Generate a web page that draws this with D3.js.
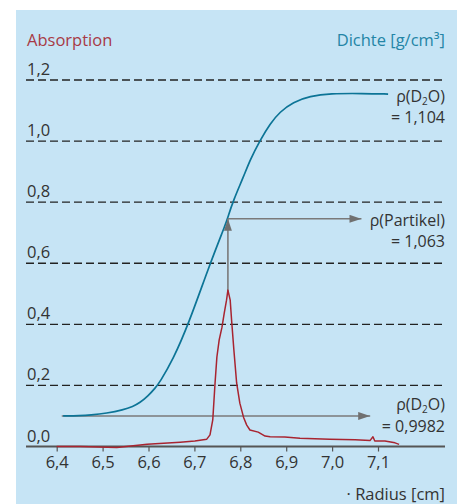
<!DOCTYPE html>
<html>
<head>
<meta charset="utf-8">
<script src="https://cdn.jsdelivr.net/npm/d3@7"></script>
<style>
  html, body { margin: 0; padding: 0; background: #fff; }
  svg { display: block; font-family: "Open Sans", "Noto Sans", sans-serif; }
</style>
</head>
<body>
<div id="chart"></div>
<script>
// x axis (radius in cm) and left axis (absorption)
const xTicks = [6.4, 6.5, 6.6, 6.7, 6.8, 6.9, 7.0, 7.1]
const yTicks = [0.0, 0.2, 0.4, 0.6, 0.8, 1.0, 1.2]

// absorption trace (radius, absorption)
const absRadius = [6.400, 6.451, 6.531, 6.597, 6.669, 6.701, 6.727, 6.734, 6.740, 6.745,
    6.749, 6.754, 6.760, 6.765, 6.770, 6.773, 6.778, 6.781, 6.786, 6.792,
    6.799, 6.807, 6.814, 6.821, 6.839, 6.854, 6.865, 6.897, 6.930, 6.995,
    7.050, 7.083, 7.089, 7.093, 7.115, 7.137, 7.146]
const absValue = [0.000, 0.000, -0.003, 0.007, 0.014, 0.018, 0.024, 0.038, 0.087, 0.208,
    0.293, 0.349, 0.390, 0.437, 0.479, 0.512, 0.479, 0.414, 0.316, 0.208,
    0.142, 0.096, 0.070, 0.054, 0.047, 0.034, 0.032, 0.031, 0.027, 0.024,
    0.022, 0.020, 0.032, 0.018, 0.018, 0.012, 0.007]

// density gradient (radius, g/cm3)
const densRadius = [6.414, 6.451, 6.473, 6.509, 6.545, 6.566, 6.581, 6.599, 6.614, 6.625, 6.653, 6.687,
    6.734, 6.770, 6.773, 6.785, 6.807, 6.821, 6.843, 6.865, 6.886, 6.915,
    6.952, 6.995, 7.067, 7.122]
const densValue = [0.9982, 0.9983, 0.9985, 0.9991, 1.0002, 1.0013, 1.0025, 1.0048, 1.0072, 1.0094, 1.0166, 1.0283,
    1.0483, 1.0620, 1.0636, 1.0691, 1.0768, 1.0823, 1.0888, 1.0943, 1.0981, 1.1014,
    1.1033, 1.1042, 1.1042, 1.1040]

// reference densities and where the arrows run
const rhoWater = 0.9982
const rhoParticle = 1.063
const rhoD2O = 1.104
const peakRadius = 6.773
const peakAbs = 0.505
const waterArrowRange = [6.411, 7.083]
const particleArrowEnd = 7.064

const fmt = v => d3.format(".1f")(v).replace(".", ",")

const W = 464, H = 504
const svg = d3.select("#chart").append("svg")
    .attr("width", W)
    .attr("height", H)

svg.append("rect")
    .attr("x", 16).attr("y", 10)
    .attr("width", 441).attr("height", H - 10)
    .attr("fill", "#c6e4f5")

const x = d3.scaleLinear().domain([6.4, 7.1]).range([56.7, 378])
const yAbs = d3.scaleLinear().domain([0, 1.2]).range([446.5, 80])
// density has no ticks, just anchored on the two D2O levels
const yDens = d3.scaleLinear().domain([rhoWater, rhoD2O]).range([yAbs(0.1), yAbs(1.154)])

const left = 26, right = 445
const darkText = "#333"

// dashed gridlines + labels
yTicks.forEach(t => {
    if (t > 0) {
        svg.append("line")
            .attr("x1", left).attr("x2", right)
            .attr("y1", yAbs(t)).attr("y2", yAbs(t))
            .attr("stroke", "#222")
            .attr("stroke-width", 1.4)
            .attr("stroke-dasharray", "8,4")
    }
    svg.append("text")
        .attr("x", 27)
        .attr("y", yAbs(t) - 5)
        .attr("font-size", 16.5)
        .attr("fill", darkText)
        .text(fmt(t))
})

// x axis
const xAxis = svg.append("g")
    .attr("transform", "translate(0," + yAbs(0) + ")")
    .call(d3.axisBottom(x).tickValues(xTicks).tickSize(5).tickPadding(5).tickFormat(fmt))
xAxis.select(".domain").remove()
xAxis.selectAll(".tick line").attr("stroke", "#555").attr("stroke-width", 1.2)
xAxis.selectAll(".tick text")
    .attr("font-size", 16.5)
    .attr("font-family", "Open Sans, Noto Sans, sans-serif")
    .attr("fill", darkText)
svg.append("line")
    .attr("x1", left).attr("x2", right)
    .attr("y1", yAbs(0)).attr("y2", yAbs(0))
    .attr("stroke", "#555")
    .attr("stroke-width", 2)

// arrows
const defs = svg.append("defs")
defs.append("marker")
    .attr("id", "head")
    .attr("viewBox", "0 0 12 8")
    .attr("refX", 12).attr("refY", 4)
    .attr("markerWidth", 12).attr("markerHeight", 8)
    .attr("markerUnits", "userSpaceOnUse")
    .attr("orient", "auto")
    .append("path")
    .attr("d", "M0,0L12,4L0,8Z")
    .attr("fill", "#707070")

const arrowColor = "#7a7a7a"
svg.append("line")
    .attr("x1", x(waterArrowRange[0])).attr("x2", x(waterArrowRange[1]))
    .attr("y1", yDens(rhoWater)).attr("y2", yDens(rhoWater))
    .attr("stroke", arrowColor).attr("stroke-width", 1.6)
    .attr("marker-end", "url(#head)")

// density curve
const densLine = d3.line()
    .x((d, i) => x(densRadius[i]))
    .y(d => yDens(d))
    .curve(d3.curveBasis)
svg.append("path")
    .attr("d", densLine(densValue))
    .attr("fill", "none")
    .attr("stroke", "#0c7496")
    .attr("stroke-width", 1.7)

svg.append("line")
    .attr("x1", x(peakRadius)).attr("x2", x(peakRadius))
    .attr("y1", yAbs(peakAbs)).attr("y2", yDens(rhoParticle))
    .attr("stroke", arrowColor).attr("stroke-width", 1.6)
    .attr("marker-end", "url(#head)")
svg.append("line")
    .attr("x1", x(peakRadius)).attr("x2", x(particleArrowEnd))
    .attr("y1", yDens(rhoParticle)).attr("y2", yDens(rhoParticle))
    .attr("stroke", arrowColor).attr("stroke-width", 1.6)
    .attr("marker-end", "url(#head)")

// absorption trace
const absLine = d3.line()
    .x((d, i) => x(absRadius[i]))
    .y(d => yAbs(d))
svg.append("path")
    .attr("d", absLine(absValue))
    .attr("fill", "none")
    .attr("stroke", "#a82430")
    .attr("stroke-width", 1.5)
    .attr("stroke-linejoin", "round")

// titles
svg.append("text")
    .attr("x", 27).attr("y", 46)
    .attr("font-size", 16.5)
    .attr("fill", "#a83a45")
    .text("Absorption")
svg.append("text")
    .attr("x", right).attr("y", 46)
    .attr("text-anchor", "end")
    .attr("font-size", 16.5)
    .attr("fill", "#2485a6")
    .text("Dichte [g/cm³]")
svg.append("text")
    .attr("x", right).attr("y", 500)
    .attr("text-anchor", "end")
    .attr("font-size", 16.5)
    .attr("fill", darkText)
    .text("· Radius [cm]")

// labels for the density levels
function rhoLabel(yTop, name, valueText) {
    const t = svg.append("text")
        .attr("x", right).attr("y", yTop)
        .attr("text-anchor", "end")
        .attr("font-size", 16)
        .attr("fill", darkText)
    if (name === "D2O") {
        t.append("tspan").text("ρ(D")
        t.append("tspan").attr("font-size", 10).attr("dy", 3).text("2")
        t.append("tspan").attr("dy", -3).text("O)")
    } else {
        t.text("ρ(" + name + ")")
    }
    svg.append("text")
        .attr("x", right).attr("y", yTop + 21.5)
        .attr("text-anchor", "end")
        .attr("font-size", 16)
        .attr("fill", darkText)
        .text("= " + valueText)
}
rhoLabel(101.5, "D2O", String(rhoD2O).replace(".", ","))
rhoLabel(225.5, "Partikel", String(rhoParticle).replace(".", ","))
rhoLabel(410, "D2O", String(rhoWater).replace(".", ","))
</script>
</body>
</html>
